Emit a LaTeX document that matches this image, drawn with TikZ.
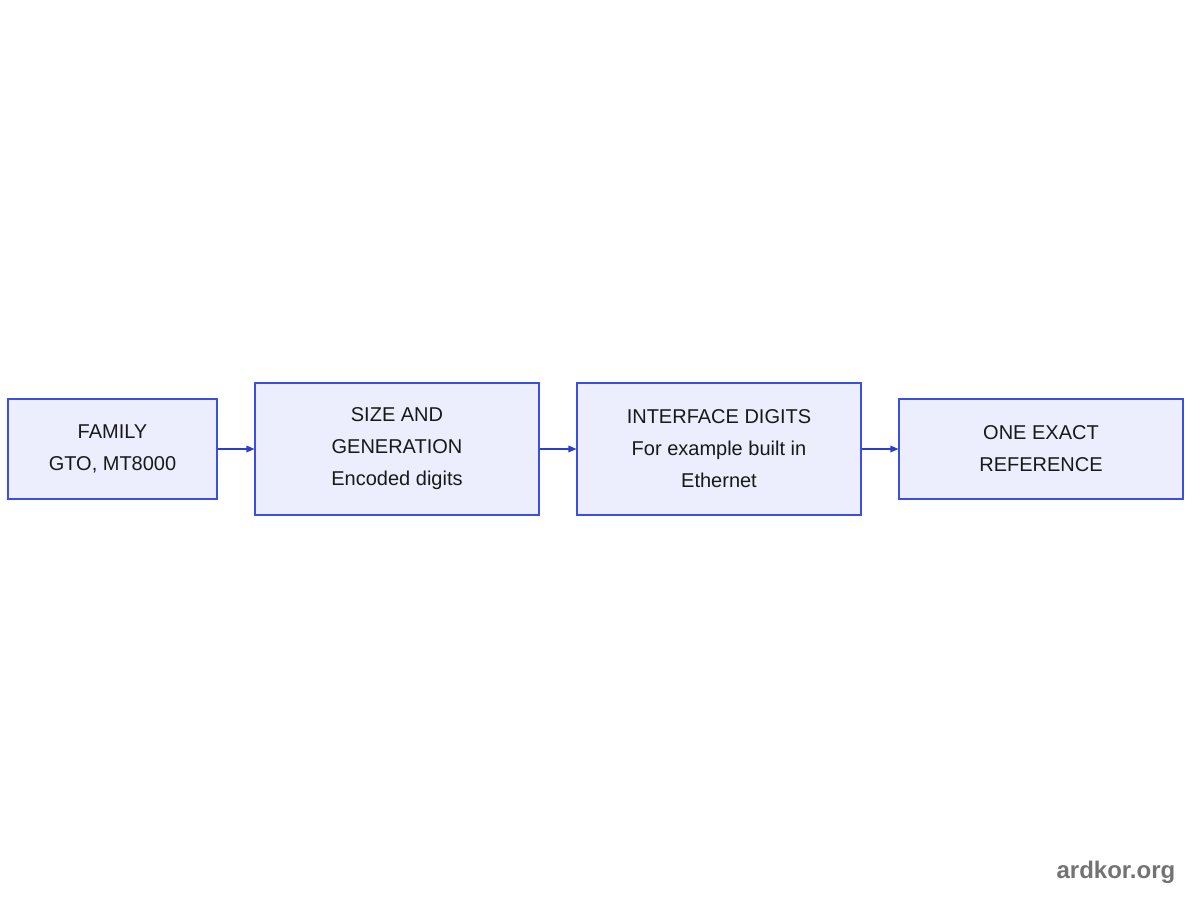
\documentclass[tikz,border=0pt]{standalone}
\usepackage{fontspec}
\setmainfont{Liberation Sans}
\usetikzlibrary{arrows.meta}
\definecolor{bfill}{HTML}{ECEEFD}
\definecolor{bdraw}{HTML}{3B4FE0}
\definecolor{arr}{HTML}{2A3FD0}
\begin{document}
\begin{tikzpicture}[x=0.75pt,y=-0.75pt,
  box/.style={draw=bdraw,fill=bfill,line width=0.8pt,inner sep=0pt,align=center,
    font=\fontsize{15}{24}\selectfont,text=black!90},
  con/.style={draw=arr,line width=0.8pt,-{Triangle[length=6pt,width=5pt]}}]
\useasboundingbox (0,0) rectangle (1200,900);
\node[box,minimum width=209*0.75pt,minimum height=100*0.75pt] (a) at (112.5,449) {FAMILY\\GTO, MT8000};
\node[box,minimum width=284*0.75pt,minimum height=132*0.75pt] (b) at (397,449) {SIZE AND\\GENERATION\\Encoded digits};
\node[box,minimum width=284*0.75pt,minimum height=132*0.75pt] (c) at (719,449) {INTERFACE DIGITS\\For example built in\\Ethernet};
\node[box,minimum width=284*0.75pt,minimum height=100*0.75pt] (d) at (1041,449) {ONE EXACT\\REFERENCE};
\draw[con] (a) -- (b);
\draw[con] (b) -- (c);
\draw[con] (c) -- (d);
\node[text=black!55,font=\fontsize{18}{20}\selectfont\bfseries,anchor=east] (w) at (1180,872) {ardkor.org};
\end{tikzpicture}
\end{document}
